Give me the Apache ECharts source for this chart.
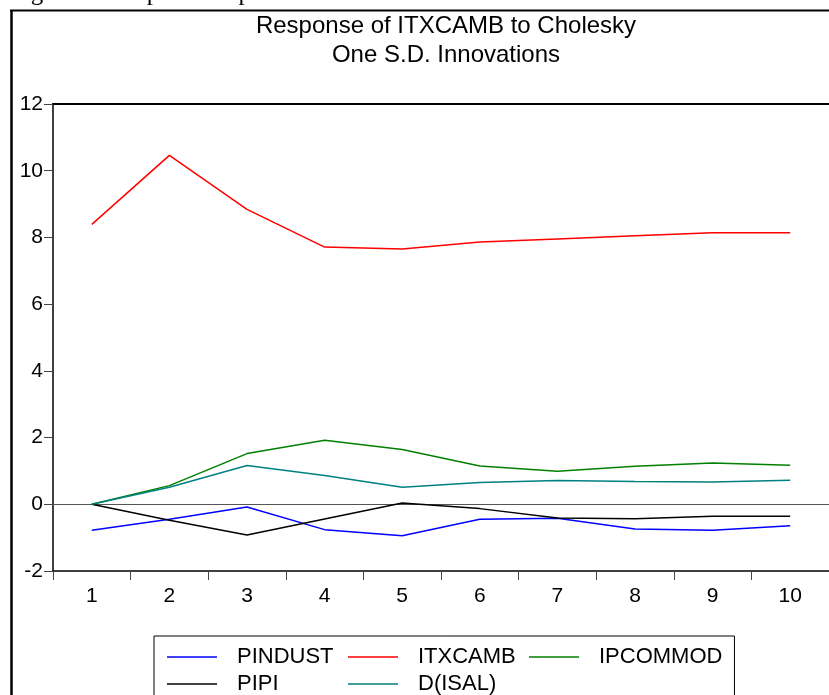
<!DOCTYPE html>
<html>
<head>
<meta charset="utf-8">
<script src="https://cdn.jsdelivr.net/npm/echarts@6/dist/echarts.min.js"></script>
<style>
  html, body { margin: 0; padding: 0; background: #ffffff; }
  #chart { width: 829px; height: 695px; }
</style>
</head>
<body>
<div id="chart"></div>
<script>
// Impulse-response horizons (periods after the shock)
const periods = ['1', '2', '3', '4', '5', '6', '7', '8', '9', '10'];

// Response of ITXCAMB to a one-S.D. Cholesky shock in each variable
const pindust  = [-0.78, -0.45, -0.08, -0.76, -0.94, -0.45, -0.42, -0.74, -0.78, -0.64];
const itxcamb  = [8.39, 10.46, 8.84, 7.71, 7.65, 7.86, 7.95, 8.05, 8.14, 8.14];
const ipcommod = [0.00, 0.56, 1.52, 1.92, 1.64, 1.15, 0.99, 1.14, 1.24, 1.17];
const pipi     = [0.00, -0.48, -0.92, -0.44, 0.04, -0.13, -0.41, -0.43, -0.36, -0.36];
const disal    = [0.00, 0.51, 1.16, 0.86, 0.51, 0.65, 0.71, 0.68, 0.67, 0.72];

// Value axis range and step
const yMin = -2, yMax = 12, yStep = 2;

const FONT = '"Liberation Sans", Arial, sans-serif';

const chart = echarts.init(document.getElementById('chart'), null, { renderer: 'canvas' });

function lineSeries(name, data, color) {
  return {
    name: name,
    type: 'line',
    data: data,
    symbol: 'none',
    smooth: false,
    lineStyle: { color: color, width: 1.5 },
    itemStyle: { color: color },
    emphasis: { disabled: true },
    z: 3
  };
}

const series = [
  lineSeries('PINDUST', pindust, '#0000ff'),
  lineSeries('ITXCAMB', itxcamb, '#ff0000'),
  lineSeries('IPCOMMOD', ipcommod, '#008000'),
  lineSeries('PIPI', pipi, '#000000'),
  lineSeries('D(ISAL)', disal, '#008080')
];

// zero reference line
series[0].markLine = {
  silent: true,
  symbol: 'none',
  label: { show: false },
  lineStyle: { color: '#555555', width: 1.2, type: 'solid' },
  data: [{ yAxis: 0 }],
  z: 2
};

const option = {
  backgroundColor: '#ffffff',
  animation: false,
  title: {
    text: 'Response of ITXCAMB to Cholesky\nOne S.D. Innovations',
    left: 446,
    top: 12,
    textAlign: 'center',
    padding: 0,
    textStyle: {
      fontFamily: FONT,
      fontSize: 24,
      fontWeight: 'normal',
      color: '#000000',
      lineHeight: 29
    }
  },
  legend: {
    data: ['PINDUST', 'ITXCAMB', 'IPCOMMOD', 'PIPI', 'D(ISAL)'],
    left: 154,
    top: 636,
    width: 560,
    orient: 'horizontal',
    icon: 'rect',
    itemWidth: 50,
    itemHeight: 1.5,
    itemGap: 5,
    padding: [10, 12, 40, 13],
    borderColor: '#000000',
    borderWidth: 1,
    backgroundColor: '#ffffff',
    selectedMode: false,
    textStyle: {
      fontFamily: FONT,
      fontSize: 22,
      color: '#000000',
      width: 106,
      lineHeight: 14,
      padding: [0, 0, 0, 15]
    }
  },
  grid: {
    left: 53,
    top: 104,
    right: -7,
    bottom: 124,
    containLabel: false
  },
  xAxis: [
    {
      type: 'category',
      data: periods,
      boundaryGap: true,
      position: 'bottom',
      axisLine: { show: true, onZero: false, lineStyle: { color: '#000000', width: 1.5 } },
      axisTick: { show: true, inside: false, length: 9, interval: 0, lineStyle: { color: '#444444', width: 1 } },
      axisLabel: { show: true, interval: 0, margin: 15, fontFamily: FONT, fontSize: 21, color: '#000000' },
      splitLine: { show: false }
    },
    {
      type: 'category',
      data: periods,
      position: 'top',
      axisLine: { show: true, onZero: false, lineStyle: { color: '#000000', width: 2 } },
      axisTick: { show: false },
      axisLabel: { show: false },
      splitLine: { show: false }
    }
  ],
  yAxis: {
    type: 'value',
    min: yMin,
    max: yMax,
    interval: yStep,
    axisLine: { show: true, lineStyle: { color: '#000000', width: 1.5 } },
    axisTick: { show: true, inside: false, length: 9, lineStyle: { color: '#444444', width: 1 } },
    axisLabel: { margin: 10, fontFamily: FONT, fontSize: 21, color: '#000000' },
    splitLine: { show: false }
  },
  graphic: [
    {
      // caption line above the frame
      type: 'text',
      left: 10,
      top: -19,
      silent: true,
      style: {
        text: 'Figura 5 – Impulso-resposta da taxa de câmbio',
        fontFamily: '"Liberation Serif", "Times New Roman", serif',
        fontSize: 25,
        fill: '#000000'
      }
    },
    {
      // outer frame: left edge
      type: 'line',
      silent: true,
      shape: { x1: 11.5, y1: 10, x2: 11.5, y2: 700 },
      style: { stroke: '#000000', lineWidth: 2.5 }
    },
    {
      // outer frame: top edge
      type: 'line',
      silent: true,
      shape: { x1: 10, y1: 10.5, x2: 840, y2: 10.5 },
      style: { stroke: '#000000', lineWidth: 2 }
    }
  ],
  series: series
};

chart.setOption(option);
</script>
</body>
</html>
